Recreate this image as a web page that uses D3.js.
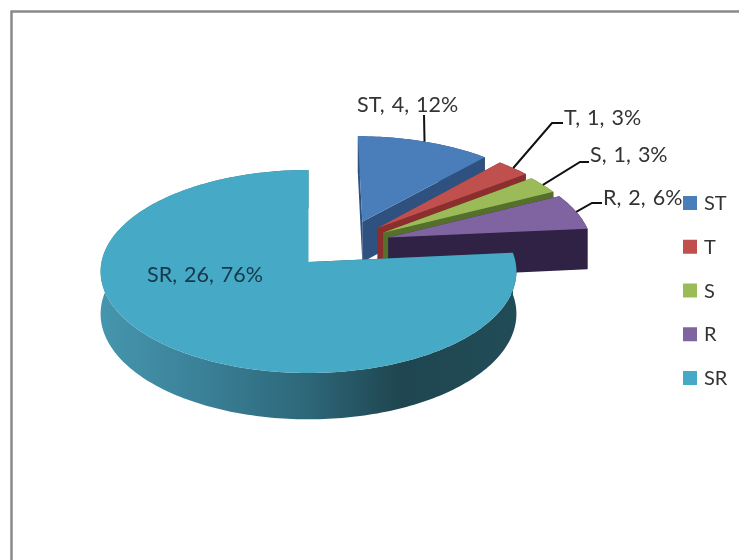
<!DOCTYPE html>
<html>
<head>
<meta charset="utf-8">
<script src="https://cdn.jsdelivr.net/npm/d3@7"></script>
<style>
    html, body { margin: 0; padding: 0; background: #fff; }
    svg { display: block; filter: blur(0.4px); }
    text { font-family: Lato, sans-serif; font-size: 21.5px; word-spacing: 1.5px; fill: #333; }
    .legend text { font-size: 20px; }
</style>
</head>
<body>
<svg id="chart" width="739" height="560"></svg>
<script>

var categories = ["ST", "T", "S", "R", "SR"];
var counts = [4, 1, 1, 2, 26];
var percents = [12, 3, 3, 6, 76];

var topColors = ["#4a7ebb", "#c0504d", "#9bbb59", "#8064a2", "#46a9c6"];
var wallColors = ["#2f5180", "#8a2f2d", "#55702c", "#2f2244", "url(#srWall)"];

var width = 739,
    height = 560,
    cx = 308.5,
    cy = 262;

// camera: fitted to the ellipse of the big slice
var radiusX = 207,
    radiusY = 100.6,
    depth = 42,
    persp = 0.0936;

// how far each slice is pulled out of the pie (disc units, right / back)
var explode = {
    ST: [0.27, 0.415],
    T: [0.345, 0.35],
    S: [0.37, 0.30],
    R: [0.395, 0.25],
    SR: [0, 0]
};

function project(X, Y, Z) {
    var k = 1 + persp * Y;
    return [cx + radiusX * X / k, cy - (radiusY * Y + depth * Z) / k];
}

var svg = d3.select("#chart");

var grad = svg.append("defs").append("linearGradient")
    .attr("id", "srWall")
    .attr("gradientUnits", "userSpaceOnUse")
    .attr("x1", 100).attr("x2", 515).attr("y1", 0).attr("y2", 0);

[[0, "#4596ae"], [0.25, "#3a8097"], [0.5, "#2d6779"], [0.72, "#1f4650"], [1, "#214c57"]]
    .forEach(function (s) {
        grad.append("stop").attr("offset", s[0]).attr("stop-color", s[1]);
    });

// chart frame, the right and bottom sides fall outside the picture
svg.append("path")
    .attr("d", "M11.5,560V11.5H739")
    .attr("fill", "none")
    .attr("stroke", "#8a8a8a")
    .attr("stroke-width", 2.5);

var slices = d3.pie().sort(null)(counts);

function arcPoints(d, Z) {
    var off = explode[categories[d.index]],
        n = Math.ceil((d.endAngle - d.startAngle) / 0.02),
        angle = d3.scaleLinear().domain([0, n]).range([d.startAngle, d.endAngle]);
    return d3.range(n + 1).map(function (i) {
        var a = angle(i);
        return project(off[0] + Math.sin(a), off[1] + Math.cos(a), Z);
    });
}

function apex(d, Z) {
    var off = explode[categories[d.index]];
    return project(off[0], off[1], Z);
}

function edge(d, a, Z) {
    var off = explode[categories[d.index]];
    return project(off[0] + Math.sin(a), off[1] + Math.cos(a), Z);
}

var line = d3.line().curve(d3.curveLinear);

var groups = svg.selectAll("g.slice")
    .data(slices)
    .enter()
    .append("g")
    .attr("class", "slice");

groups.each(function (d) {
    var g = d3.select(this),
        wall = wallColors[d.index];

    // the two cut faces
    [d.startAngle, d.endAngle].forEach(function (a) {
        g.append("path")
            .attr("d", line([apex(d, 0), edge(d, a, 0), edge(d, a, -1), apex(d, -1)]) + "Z")
            .attr("fill", wall);
    });

    // rim
    var top = arcPoints(d, 0),
        bottom = arcPoints(d, -1).reverse();
    g.append("path")
        .attr("d", line(top.concat(bottom)) + "Z")
        .attr("fill", wall);

    // lid
    g.append("path")
        .attr("d", line([apex(d, 0)].concat(top)) + "Z")
        .attr("fill", topColors[d.index]);
});

// data labels
var labelPos = {
    ST: { x: 357, y: 112, elbow: [[424, 115]] },
    T: { x: 564, y: 125, elbow: [[552, 123], [563, 123]] },
    S: { x: 590, y: 162, elbow: [[580, 162], [589, 162]] },
    R: { x: 603, y: 205, elbow: [[592, 203], [602, 203]] },
    SR: { x: 147, y: 282, elbow: [] }
};

slices.forEach(function (d) {
    var name = categories[d.index],
        pos = labelPos[name];

    if (pos.elbow.length) {
        var mid = (d.startAngle + d.endAngle) / 2;
        svg.append("path")
            .attr("d", line([edge(d, mid, 0)].concat(pos.elbow)))
            .attr("fill", "none")
            .attr("stroke", "#111")
            .attr("stroke-width", 2);
    }

    svg.append("text")
        .attr("x", pos.x)
        .attr("y", pos.y)
        .style("fill", name === "SR" ? "#17384a" : "#333")
        .text(name + ", " + counts[d.index] + ", " + percents[d.index] + "%");
});

// legend
var legendY = d3.scalePoint().domain(categories).range([203, 378]);

var legend = svg.selectAll("g.legend")
    .data(categories)
    .enter()
    .append("g")
    .attr("class", "legend")
    .attr("transform", function (d) { return "translate(683," + legendY(d) + ")"; });

legend.append("rect")
    .attr("y", -7)
    .attr("width", 14)
    .attr("height", 14)
    .attr("fill", function (d, i) { return topColors[i]; });

legend.append("text")
    .attr("x", 21)
    .attr("y", 7)
    .text(function (d) { return d; });

</script>
</body>
</html>
